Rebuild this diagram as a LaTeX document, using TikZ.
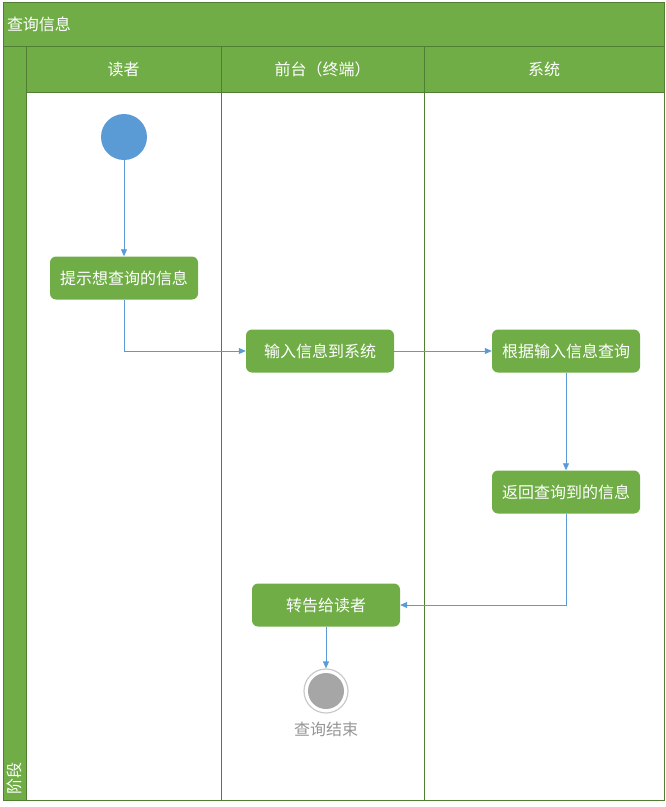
\documentclass[tikz,border=0pt]{standalone}
\usepackage{fontspec}
\setmainfont{Noto Sans CJK SC}
\usetikzlibrary{arrows.meta,positioning}
\definecolor{laneGreen}{HTML}{70AD47}
\definecolor{lineGreen}{HTML}{507E32}
\definecolor{flowBlue}{HTML}{5B9BD5}
\definecolor{endGray}{HTML}{A6A6A6}

\begin{document}
\begin{tikzpicture}[x=1pt,y=-1pt,
    font=\fontsize{16}{19}\selectfont,
    band/.style={draw=lineGreen, line width=1pt, fill=laneGreen, text=white, inner sep=0pt},
    lane/.style={draw=lineGreen, line width=1pt},
    task/.style={fill=laneGreen, text=white, rounded corners=6pt, minimum width=148pt, minimum height=43pt, inner sep=0pt},
    flow/.style={draw=flowBlue, line width=0.8pt, -{Triangle[length=7pt,width=6pt]}}]
\useasboundingbox (0,0) rectangle (666,807);
% swimlanes
    \draw[lane] (3,46) rectangle (664,800);
    \draw[lane] (221,92) -- (221,800);
    \draw[lane] (424,92) -- (424,800);
    \node[band, minimum width=661pt, minimum height=44pt, text width=653pt, align=left] (Title) at (333.5,24) {查询信息};
    \node[band, minimum width=23pt, minimum height=754pt] (Stage) at (14.5,423) {};
    \node[text=white, rotate=90] (StageText) at (14.5,778) {阶段};
    \node[band, minimum width=195pt, minimum height=46pt] (Reader) at (123.5,69) {读者};
    \node[band, minimum width=203pt, minimum height=46pt] (Front) at (322.5,69) {前台（终端）};
    \node[band, minimum width=240pt, minimum height=46pt] (System) at (544,69) {系统};

% activities
    \node[circle, fill=flowBlue, minimum size=46pt, inner sep=0pt] (Start) at (124,137) {};
    \node[task] (Prompt) at (124,278) {提示想查询的信息};
    \node[task] (Input) at (320,351) {输入信息到系统};
    \node[task] (Query) at (566,351) {根据输入信息查询};
    \node[task] (Return) at (566,492) {返回查询到的信息};
    \node[task] (Tell) at (326,605) {转告给读者};
    \node[circle, draw=endGray!60, line width=1.2pt, fill=white, minimum size=44pt, inner sep=0pt] (End) at (326,691) {};
    \node[circle, fill=endGray, minimum size=36pt, inner sep=0pt] (EndDot) at (End) {};
    \node[text=endGray!90!black, below=5pt of End] (EndText) {查询结束};

    \draw[flow] (Start) to (Prompt);
    \draw[flow] (Prompt) |- (Input);
    \draw[flow] (Input) to (Query);
    \draw[flow] (Query) to (Return);
    \draw[flow] (Return) |- (Tell);
    \draw[flow] (Tell) to (End);

\end{tikzpicture}
\end{document}
